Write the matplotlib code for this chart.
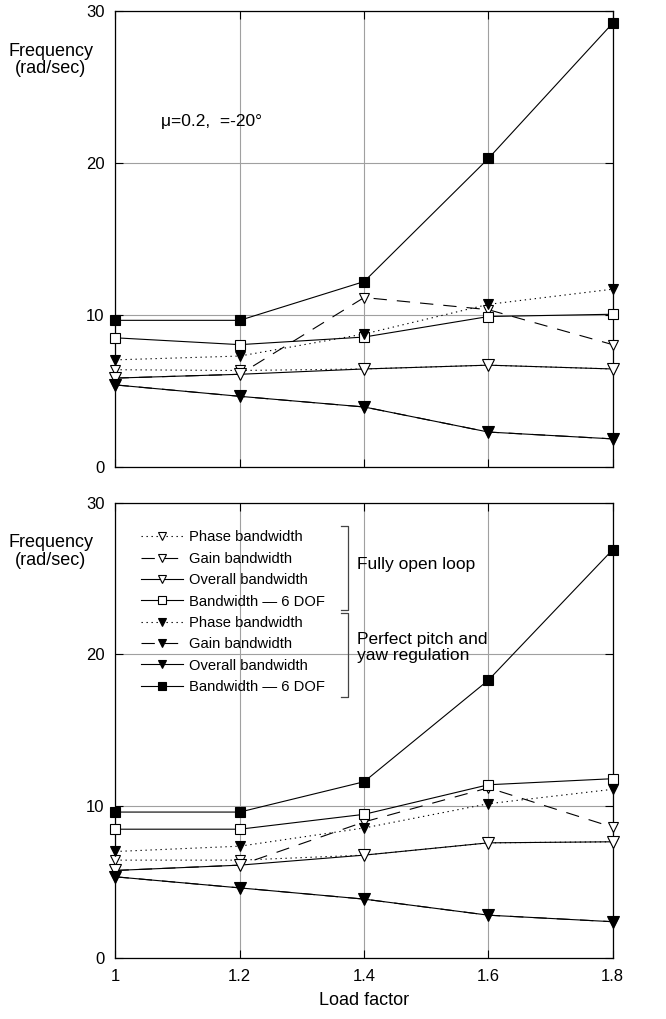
import matplotlib
matplotlib.use("Agg")
import matplotlib.pyplot as plt
from matplotlib.lines import Line2D

plt.rcParams['font.family'] = ['Liberation Sans', 'DejaVu Sans']

# Load factor
load_factor = [1.0, 1.2, 1.4, 1.6, 1.8]

# Top panel (mu=0.2)
top_open_phase = [6.4, 6.35, 6.45, 6.7, 6.45]
top_open_gain = [5.85, 6.1, 11.15, 10.35, 8.05]
top_open_overall = [5.85, 6.1, 6.45, 6.7, 6.45]
top_open_6dof = [8.5, 8.05, 8.55, 9.9, 10.05]
top_closed_phase = [7.05, 7.3, 8.75, 10.7, 11.7]
top_closed_gain = [5.4, 4.65, 3.95, 2.3, 1.85]
top_closed_overall = [5.4, 4.65, 3.95, 2.3, 1.85]
top_closed_6dof = [9.65, 9.65, 12.2, 20.3, 29.2]

# Bottom panel
bot_open_phase = [6.43, 6.43, 6.76, 7.57, 7.64]
bot_open_gain = [5.75, 6.1, 8.95, 11.2, 8.6]
bot_open_overall = [5.75, 6.1, 6.76, 7.57, 7.64]
bot_open_6dof = [8.47, 8.47, 9.45, 11.4, 11.8]
bot_closed_phase = [7.0, 7.35, 8.55, 10.15, 11.1]
bot_closed_gain = [5.33, 4.6, 3.86, 2.8, 2.37]
bot_closed_overall = [5.33, 4.6, 3.86, 2.8, 2.37]
bot_closed_6dof = [9.6, 9.6, 11.6, 18.3, 26.9]

labels = ['Phase bandwidth', 'Gain bandwidth', 'Overall bandwidth', 'Bandwidth \u2014 6 DOF',
          'Phase bandwidth', 'Gain bandwidth', 'Overall bandwidth', 'Bandwidth \u2014 6 DOF']

DOT = (1.2, 3.3)
DASH = (12, 9)


def draw_panel(ax, series):
    # open phase, open gain, open overall, open 6dof, closed phase, closed gain, closed overall, closed 6dof
    styles = [
        dict(dashes=DOT, marker='v', mfc='white', ms=7),
        dict(dashes=DASH, marker='v', mfc='white', ms=7),
        dict(ls='-', marker='v', mfc='white', ms=8),
        dict(ls='-', marker='s', mfc='white', ms=6.5),
        dict(dashes=DOT, marker='v', mfc='black', ms=7),
        dict(dashes=DASH, marker='v', mfc='black', ms=7),
        dict(ls='-', marker='v', mfc='black', ms=8),
        dict(ls='-', marker='s', mfc='black', ms=6.5),
    ]
    lines = []
    for vals, st in zip(series, styles):
        ln, = ax.plot(load_factor, vals, color='black', lw=0.8, mec='black',
                      mew=0.8, clip_on=False, zorder=3, **st)
        lines.append(ln)
    ax.set_xlim(1, 1.8)
    ax.set_ylim(0, 30)
    ax.set_xticks(load_factor)
    ax.set_yticks([0, 10, 20, 30])
    ax.grid(True, color='#a0a0a0', lw=0.8)
    ax.tick_params(direction='in', length=6, width=0.8, top=True, right=True,
                   labelsize=12, pad=8)
    for sp in ax.spines.values():
        sp.set_linewidth(0.9)
    return lines


fig = plt.figure(figsize=(6.66, 10.19), dpi=100)
ax1 = fig.add_axes([0.1734, 0.5417, 0.7466, 0.4475])
ax2 = fig.add_axes([0.1734, 0.0602, 0.7466, 0.4465])

draw_panel(ax1, [top_open_phase, top_open_gain, top_open_overall, top_open_6dof,
                 top_closed_phase, top_closed_gain, top_closed_overall, top_closed_6dof])
handles = draw_panel(ax2, [bot_open_phase, bot_open_gain, bot_open_overall, bot_open_6dof,
                           bot_closed_phase, bot_closed_gain, bot_closed_overall, bot_closed_6dof])

ax1.tick_params(labelbottom=False)
ax2.set_xticklabels(['1', '1.2', '1.4', '1.6', '1.8'])
ax2.set_xlabel('Load factor', fontsize=13, labelpad=6)

ax1.text(1.074, 22.76, '\u03bc=0.2,  =-20\u00b0', fontsize=12.5, va='center', ha='left')

for ax in (ax1, ax2):
    top = ax.get_position().y1
    fig.text(51 / 666, top - 49 / 1019, 'Frequency\n(rad/sec)', fontsize=13,
             ha='center', va='center', linespacing=1.05)

leg = ax2.legend(handles, labels, loc='upper left', bbox_to_anchor=(0.0507, 0.939),
                 frameon=False, fontsize=10.6, numpoints=1, handlelength=2.9,
                 handletextpad=0.4, borderaxespad=0, borderpad=0, labelspacing=0.5,
                 markerscale=0.8)

# brackets for the legend groups (pixel -> figure fraction)
W, H = 666, 1019


def bracket(y0, y1):
    xs = [340.7 / W, 348.3 / W, 348.3 / W, 340.7 / W]
    ys = [1 - y0 / H, 1 - y0 / H, 1 - y1 / H, 1 - y1 / H]
    fig.add_artist(Line2D(xs, ys, color='#444444', lw=0.9))


bracket(526, 609.5)
bracket(613, 696.7)
fig.text(356.7 / W, 1 - 565 / H, 'Fully open loop', fontsize=12.5, va='center', ha='left')
fig.text(356.7 / W, 1 - 647.5 / H, 'Perfect pitch and\nyaw regulation', fontsize=12.5,
         va='center', ha='left', linespacing=1.05)

fig.savefig('out.png', dpi=100)
